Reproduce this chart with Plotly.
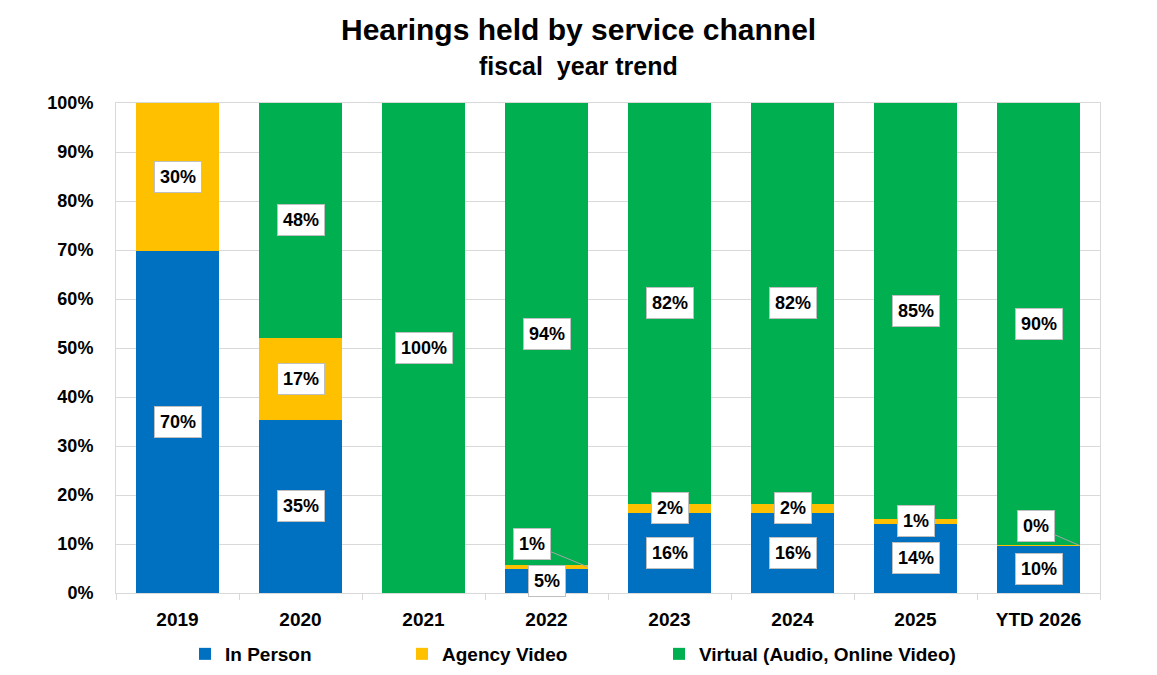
import plotly.graph_objects as go

categories = ["2019", "2020", "2021", "2022", "2023", "2024", "2025", "YTD 2026"]
in_person = [0.697, 0.354, 0.0, 0.049, 0.163, 0.163, 0.141, 0.096]
agency_video = [0.303, 0.167, 0.0, 0.009, 0.019, 0.019, 0.010, 0.002]
virtual = [0.0, 0.479, 1.0, 0.942, 0.818, 0.818, 0.849, 0.902]
y_ticks = [0, 0.1, 0.2, 0.3, 0.4, 0.5, 0.6, 0.7, 0.8, 0.9, 1.0]

series = [
    ("In Person", in_person, "#0070C0"),
    ("Agency Video", agency_video, "#FFC000"),
    ("Virtual (Audio, Online Video)", virtual, "#00B050"),
]
# legend symbol centre (px) for each series
legend_x_px = [210, 427, 684]
# agency labels drawn as callouts: pixel offsets of the label from the bar edge
callout_offsets = {"2022": (-56, -23), "YTD 2026": (-44, -19)}
FONT = "Liberation Sans, Arial, sans-serif"
BAR_W = 0.667
W, H = 1157, 675

fig = go.Figure()
legend_layout = {}
for k, (name, vals, col) in enumerate(series):
    lg = "legend" if k == 0 else f"legend{k+1}"
    fig.add_trace(go.Bar(x=categories, y=vals, name=name, marker=dict(color=col, line=dict(width=0)),
                         width=BAR_W, hoverinfo="skip", legend=lg))
    legend_layout[lg] = dict(orientation="h", x=(legend_x_px[k] - 25) / W, xanchor="left", xref="container",
                             y=(H - 654) / H, yanchor="middle", yref="container",
                             font=dict(family=FONT, size=19, color="black", weight="bold"),
                             itemclick=False, itemdoubleclick=False, bgcolor="rgba(0,0,0,0)")

annotations = []
base = [0.0] * len(categories)
for si, (name, vals, col) in enumerate(series):
    for i, (c, v) in enumerate(zip(categories, vals)):
        mid = base[i] + v / 2
        txt = f"{v*100:.0f}%"
        common = dict(text=txt, font=dict(family=FONT, size=18, color="black", weight="bold"),
                      bgcolor="white", bordercolor="#BFBFBF", borderwidth=1, borderpad=5,
                      xref="x", yref="y")
        if name == "Agency Video" and c in callout_offsets:
            ax, ay = callout_offsets[c]
            annotations.append(dict(x=i + BAR_W / 2, y=mid, showarrow=True, arrowhead=0,
                                    arrowcolor="#A6A6A6", arrowwidth=1, standoff=0,
                                    ax=ax, ay=ay, **common))
        elif v > 0:
            annotations.append(dict(x=i, y=mid, showarrow=False, **common))
        base[i] += v

annotations.append(dict(text="Hearings held by service channel", xref="paper", yref="paper",
                        x=0.470, y=1.149, xanchor="center", yanchor="middle", showarrow=False,
                        font=dict(family=FONT, size=30, color="black", weight="bold")))
annotations.append(dict(text="fiscal\u00a0 year trend", xref="paper", yref="paper",
                        x=0.470, y=1.0755, xanchor="center", yanchor="middle", showarrow=False,
                        font=dict(family=FONT, size=25, color="black", weight="bold")))

fig.update_layout(
    barmode="stack",
    width=W, height=H,
    margin=dict(l=116, r=57, t=103, b=82, autoexpand=False),
    paper_bgcolor="white", plot_bgcolor="white",
    font=dict(family=FONT, color="black"),
    annotations=annotations,
    showlegend=True,
    bargap=1 - BAR_W,
    **legend_layout,
)
fig.update_xaxes(type="category", showline=True, linecolor="#D9D9D9", mirror=True,
                 ticks="outside", tickson="boundaries", ticklen=6, tickcolor="#D9D9D9",
                 tickfont=dict(family=FONT, size=19, color="black", weight="bold"),
                 ticklabelstandoff=9, showgrid=False, automargin=False)
fig.update_yaxes(range=[0, 1], tickvals=y_ticks, tickformat=".0%", showgrid=True, gridcolor="#D9D9D9",
                 showline=True, linecolor="#D9D9D9", mirror=True, zeroline=False,
                 tickfont=dict(family=FONT, size=18, color="black", weight="bold"),
                 ticklabelstandoff=18, automargin=False)

fig.write_html("out.html")
